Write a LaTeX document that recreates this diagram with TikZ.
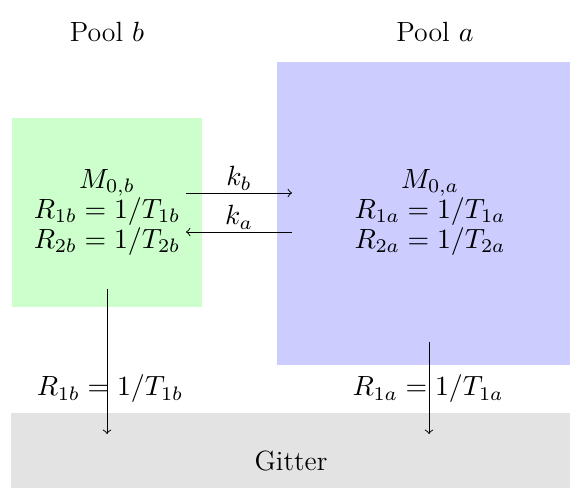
\documentclass[tikz,border=0pt]{standalone}
\usepackage{fix-cm}
\begin{document}
\begin{tikzpicture}[x=0.41pt,y=-0.41pt,
  every node/.style={font=\fontsize{11.4pt}{12.3pt}\selectfont},
  lbl/.style={inner sep=0pt,align=center},
  flow/.style={->,black}]
\useasboundingbox (0,0) rectangle (570,489);
% boxes
\fill[green!20] (12,118) rectangle (202,307);
\fill[blue!20] (277,62) rectangle (570,365);
\fill[black!11] (11,413) rectangle (570,488);
\node[lbl] (pb) at (107,32) {Pool $b$};
\node[lbl] (pa) at (435,32) {Pool $a$};
\node[lbl] (tb) at (107,212) {$M_{0,b}$\\ $R_{1b}=1/T_{1b}$\\ $R_{2b}=1/T_{2b}$};
\node[lbl] (ta) at (430,212) {$M_{0,a}$\\ $R_{1a}=1/T_{1a}$\\ $R_{2a}=1/T_{2a}$};
\node[lbl] (g) at (291,461) {Gitter};
\coordinate (kb1) at (186,193);
\coordinate (kb2) at (292,193);
\coordinate (ka1) at (292,232);
\coordinate (ka2) at (186,232);
\draw[flow] (kb1) -- node[above,inner sep=1pt] {$k_b$} (kb2);
\draw[flow] (ka1) -- node[above,inner sep=1pt] {$k_a$} (ka2);
\coordinate (lb1) at (107,289);
\coordinate (lb2) at (107,434);
\coordinate (la1) at (429,342);
\coordinate (la2) at (429,434);
\draw[flow] (lb1) -- (lb2);
\draw[flow] (la1) -- (la2);
\node[lbl] (rb) at (110,389) {$R_{1b}=1/T_{1b}$};
\node[lbl] (ra) at (428,389) {$R_{1a}=1/T_{1a}$};
\end{tikzpicture}
\end{document}
